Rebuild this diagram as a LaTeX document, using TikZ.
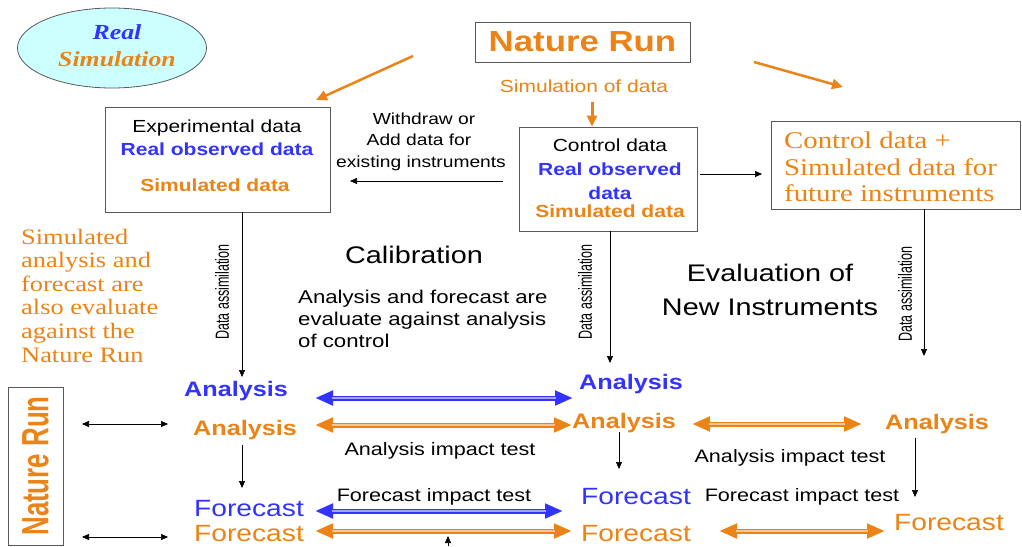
\documentclass[tikz,border=0pt]{standalone}
\usepackage{fontspec}
\usetikzlibrary{arrows.meta,shapes.geometric}
\setmainfont{Liberation Sans}[FakeStretch=1.2]
\newfontfamily\seriffont{Liberation Serif}[FakeStretch=1.2]
\newfontfamily\narrowfont{Liberation Sans}[FakeStretch=0.66]
\newfontfamily\tallfont{Liberation Sans}[FakeStretch=0.68]
\newcommand\setsz[1]{\fontsize{#1}{#1}\selectfont}

\definecolor{nrorange}{RGB}{236,131,22}
\definecolor{obsblue}{RGB}{51,51,255}
\definecolor{skycyan}{RGB}{204,255,255}
\definecolor{framegray}{RGB}{90,90,90}

\begin{document}
\begin{tikzpicture}[x=1pt,y=-1pt,
  txt/.style={inner sep=0pt, anchor=base},
  txtw/.style={inner sep=0pt, anchor=base west},
  box/.style={draw=framegray, line width=0.9pt, inner sep=0pt},
  thin/.style={draw=black, line width=0.7pt, -{Triangle[length=7pt,width=6pt]}},
  twoway/.style={draw=black, line width=0.7pt, {Triangle[length=7pt,width=6pt]}-{Triangle[length=7pt,width=6pt]}},
  feed/.style={draw=nrorange, line width=2.5pt, -{Triangle[length=11pt,width=10pt]}},
  band/.style={line width=5pt, {Triangle[length=18pt,width=14pt]}-{Triangle[length=18pt,width=14pt]}},
  core/.style={line width=1.1pt, shorten <=17pt, shorten >=17pt},
  upright/.style={inner sep=0pt, rotate=90},
  body/.style={font=\setsz{17.5}},
  bodyb/.style={font=\bfseries\setsz{17.5}},
  head/.style={font=\bfseries\setsz{21}},
  fcst/.style={font=\setsz{23.5}},
  note/.style={font=\setsz{18}},
  big/.style={font=\setsz{24}},
]
\useasboundingbox (0,0) rectangle (1022,546);
\fill[white] (0,0) rectangle (1022,546);

% legend ellipse
\node[ellipse, draw=framegray, line width=0.8pt, fill=skycyan,
      minimum width=189pt, minimum height=80pt] (legend) at (112,48) {};
\node[txt, font=\seriffont\bfseries\itshape\setsz{21.5}, text=obsblue] (legReal) at (117,39) {Real};
\node[txt, font=\seriffont\bfseries\itshape\setsz{21.5}, text=nrorange] (legSim) at (117,66) {Simulation};

% nature run source
\node[box, minimum width=215pt, minimum height=40pt, font=\bfseries\setsz{29}, text=nrorange]
  (nature) at (582.5,42) {Nature Run};
\node[txt, body, text=nrorange] (simdata) at (584,92.3) {Simulation of data};

% experimental data box
\node[box, minimum width=225pt, minimum height=105pt] (exp) at (217.5,159.5) {};
\node[txt, body] (expT) at (217,132.3) {Experimental data};
\node[txt, bodyb, text=obsblue] (expR) at (217,155.3) {Real observed data};
\node[txt, bodyb, text=nrorange] (expS) at (215,191.3) {Simulated data};

% withdraw / add label
\node[txt, font=\setsz{16}] (wd1) at (424,124.8) {Withdraw or};
\node[txt, font=\setsz{16}] (wd2) at (419,145.8) {Add data for};
\node[txt, font=\setsz{16}] (wd3) at (421,167.8) {existing instruments};

% control data box
\node[box, minimum width=178pt, minimum height=104pt] (ctl) at (608,179) {};
\node[txt, body] (ctlT) at (610,151.3) {Control data};
\node[txt, bodyb, text=obsblue] (ctlR) at (610,175.3) {Real observed};
\node[txt, bodyb, text=obsblue] (ctlR2) at (610,199.3) {data};
\node[txt, bodyb, text=nrorange] (ctlS) at (610,217.3) {Simulated data};

% future instruments box
\node[box, minimum width=249pt, minimum height=88pt] (fut) at (895.5,165) {};
\node[txtw, font=\seriffont\setsz{24}, text=nrorange] (fut1) at (784,148) {Control data +};
\node[txtw, font=\seriffont\setsz{24}, text=nrorange] (fut2) at (784,175) {Simulated data for};
\node[txtw, font=\seriffont\setsz{24}, text=nrorange] (fut3) at (784,201) {future instruments};

% side note
\foreach \ln/\yy [count=\i] in {Simulated/244, analysis and/267.6, forecast are/291.2,
    also evaluate/314.8, against the/338.4, Nature Run/362}
  \node[txtw, font=\seriffont\setsz{22}, text=nrorange] (side\i) at (21,\yy) {\ln};

% section titles
\node[txt, big] (calib) at (414,263.6) {Calibration};
\node[txtw, font=\setsz{18.5}] (cal1) at (298,303.7) {Analysis and forecast are};
\node[txtw, font=\setsz{18.5}] (cal2) at (298,325.7) {evaluate against analysis};
\node[txtw, font=\setsz{18.5}] (cal3) at (298,347.7) {of control};
\node[txt, big] (eval1) at (770,281.6) {Evaluation of};
\node[txt, big] (eval2) at (770,315.6) {New Instruments};

% data assimilation labels
\node[upright, font=\narrowfont\setsz{19}] (daLab1) at (222,292) {Data assimilation};
\node[upright, font=\narrowfont\setsz{19}] (daLab2) at (585,292) {Data assimilation};
\node[upright, font=\narrowfont\setsz{19}] (daLab3) at (905,294) {Data assimilation};

% vertical nature run box
\node[box, upright, minimum width=158pt, minimum height=55pt,
      font=\tallfont\bfseries\setsz{38}, text=nrorange] (natureV) at (35.5,466) {Nature Run};

% analyses and forecasts
\node[txt, head, text=obsblue]  (anaB1) at (236,396.6) {Analysis};
\node[txt, head, text=nrorange] (anaO1) at (245,435.6) {Analysis};
\node[txt, fcst, text=obsblue]  (fcB1)  at (249,516.5) {Forecast};
\node[txt, fcst, text=nrorange] (fcO1)  at (249,541.5) {Forecast};
\node[txt, head, text=obsblue]  (anaB2) at (631,389.6) {Analysis};
\node[txt, head, text=nrorange] (anaO2) at (624,428.6) {Analysis};
\node[txt, fcst, text=obsblue]  (fcB2)  at (636,504.5) {Forecast};
\node[txt, fcst, text=nrorange] (fcO2)  at (636,541.5) {Forecast};
\node[txt, head, text=nrorange] (anaO3) at (937,429.6) {Analysis};
\node[txt, fcst, text=nrorange] (fcO3)  at (949,530.5) {Forecast};

\node[txt, note] (ait1) at (440,455.5) {Analysis impact test};
\node[txt, note] (ait2) at (790,462.5) {Analysis impact test};
\node[txt, note] (fit1) at (434,501.5) {Forecast impact test};
\node[txt, note] (fit2) at (802,501.5) {Forecast impact test};

% connector end points
\coordinate (feedL0) at (413,56);  \coordinate (feedL1) at (316,100);
\coordinate (feedR0) at (754,62);  \coordinate (feedR1) at (843,87);
\coordinate (simTip) at (592,102);
\coordinate (wdFrom) at (503,181); \coordinate (wdTo) at (350,181);
\coordinate (addFrom) at (700,174); \coordinate (addTo) at (762,174);
\coordinate (daL) at (242,377); \coordinate (daM) at (610,363); \coordinate (daR) at (924,356);
\coordinate (stepL0) at (242,445); \coordinate (stepL1) at (242,488);
\coordinate (stepM0) at (619,432); \coordinate (stepM1) at (619,469);
\coordinate (stepR0) at (915,438); \coordinate (stepR1) at (915,497);
\coordinate (nrA0) at (82,424);  \coordinate (nrA1) at (168,424);
\coordinate (nrF0) at (82,537);  \coordinate (nrF1) at (168,537);
\coordinate (upFrom) at (448,546); \coordinate (upTo) at (448,536);
\coordinate (cA0) at (315,398); \coordinate (cA1) at (573,398);
\coordinate (cB0) at (315,425); \coordinate (cB1) at (572,425);
\coordinate (cC0) at (315,511); \coordinate (cC1) at (563,511);
\coordinate (cD0) at (315,531); \coordinate (cD1) at (572,531);
\coordinate (eA0) at (692,424); \coordinate (eA1) at (862,424);
\coordinate (eB0) at (719,531); \coordinate (eB1) at (885,531);

% orange feeds from the nature run
\draw[feed] (feedL0) -- (feedL1);
\draw[feed] (feedR0) -- (feedR1);
\draw[feed, line width=3pt] (simTip) -- (simTip |- ctl.north);

% data flow
\draw[thin] (wdFrom) -- (wdTo);
\draw[thin] (addFrom) -- (addTo);
\draw[thin] (daL |- exp.south) -- (daL);
\draw[thin] (daM |- ctl.south) -- (daM);
\draw[thin] (daR |- fut.south) -- (daR);
\draw[thin] (stepL0) -- (stepL1);
\draw[thin] (stepM0) -- (stepM1);
\draw[thin] (stepR0) -- (stepR1);
\draw[twoway] (nrA0) -- (nrA1);
\draw[twoway] (nrF0) -- (nrF1);
\draw[thin] (upFrom) -- (upTo);

% impact comparisons
\foreach \a/\b/\c in {cA0/cA1/obsblue, cB0/cB1/nrorange, cC0/cC1/obsblue,
                      cD0/cD1/nrorange, eA0/eA1/nrorange, eB0/eB1/nrorange} {
  \draw[band, \c] (\a) -- (\b);
  \draw[core, \c!45!white] (\a) -- (\b);
}
\end{tikzpicture}
\end{document}
